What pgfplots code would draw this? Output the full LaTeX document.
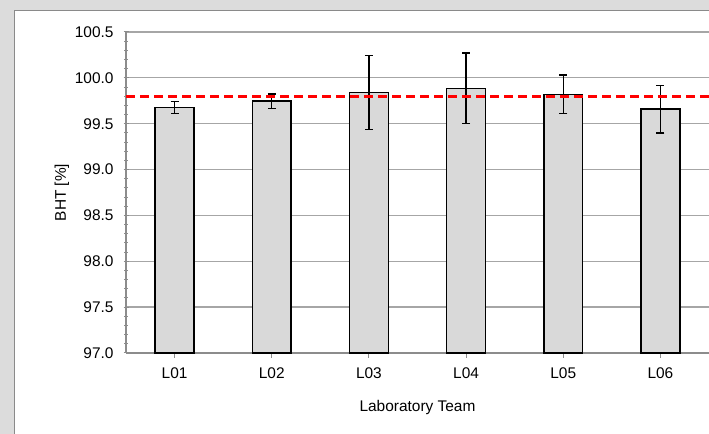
\documentclass[border=0pt]{standalone}
\usepackage{pgfplots}
\pgfplotsset{compat=1.18}
\usepackage{fontspec}
\setmainfont{Liberation Sans}
\definecolor{bggray}{HTML}{DCDCDC}
\definecolor{panelborder}{HTML}{8A8A8A}
\definecolor{barfill}{HTML}{D9D9D9}
\definecolor{axisgray}{HTML}{8C8C8C}
\definecolor{gridgray}{HTML}{A6A6A6}
\pgfplotstableread{
x y err
1 99.675 0.065
2 99.745 0.080
3 99.840 0.400
4 99.885 0.385
5 99.820 0.210
6 99.660 0.260
}\bhtdata
\begin{document}
\begin{tikzpicture}[x=1bp,y=1bp]
\useasboundingbox (0,0) rectangle (709,434);
\clip (0,0) rectangle (709,434);
\fill[bggray] (0,0) rectangle (709,434);
\draw[panelborder, fill=white, line width=1.5bp] (14.5,-20) rectangle (740,423.5);
\begin{axis}[
  at={(126bp,81bp)}, anchor=south west,
  scale only axis,
  width=583bp, height=321bp,
  xmin=0.5, xmax=6.5,
  ymin=97, ymax=100.5,
  axis x line*=bottom, axis y line*=left,
  axis line style={axisgray, line width=1.3bp},
  xtick={1,2,3,4,5,6},
  xticklabels={L01,L02,L03,L04,L05,L06},
  ytick={97,97.5,...,100.5},
  minor y tick num=4,
  tick align=outside,
  tick style={axisgray, line width=1bp},
  major tick length=5bp,
  minor tick length=4bp,
  ytick style={/pgfplots/tick align=center},
  /pgf/number format/assume math mode=true,
  yticklabel style={xshift=-4bp, /pgf/number format/.cd, fixed, fixed zerofill, precision=1},
  xticklabel style={yshift=-6bp},
  ymajorgrids,
  grid style={gridgray, line width=1.3bp},
  tick label style={font=\fontsize{15.5}{18}\selectfont},
  label style={font=\fontsize{15.5}{18}\selectfont},
  xlabel={Laboratory Team},
  ylabel={BHT [\%]},
  xlabel style={at={(axis description cs:0.5,-0.171)}, anchor=center},
  ylabel style={at={(axis description cs:-0.11,0.5)}, anchor=center},
  clip=false,
]
\addplot[ybar, bar width=0.4, fill=barfill, draw=black, line width=1.5bp,
  error bars/.cd, y dir=both, y explicit,
  error bar style={black, line width=1.3bp},
  error mark options={rotate=90, mark size=4bp, line width=1.3bp, black}]
  table[x=x, y=y, y error=err] {\bhtdata};
\addplot[red, line width=3bp, dash pattern=on 9bp off 5bp] coordinates {(0.5,99.8) (6.5,99.8)};
\end{axis}
\end{tikzpicture}
\end{document}
